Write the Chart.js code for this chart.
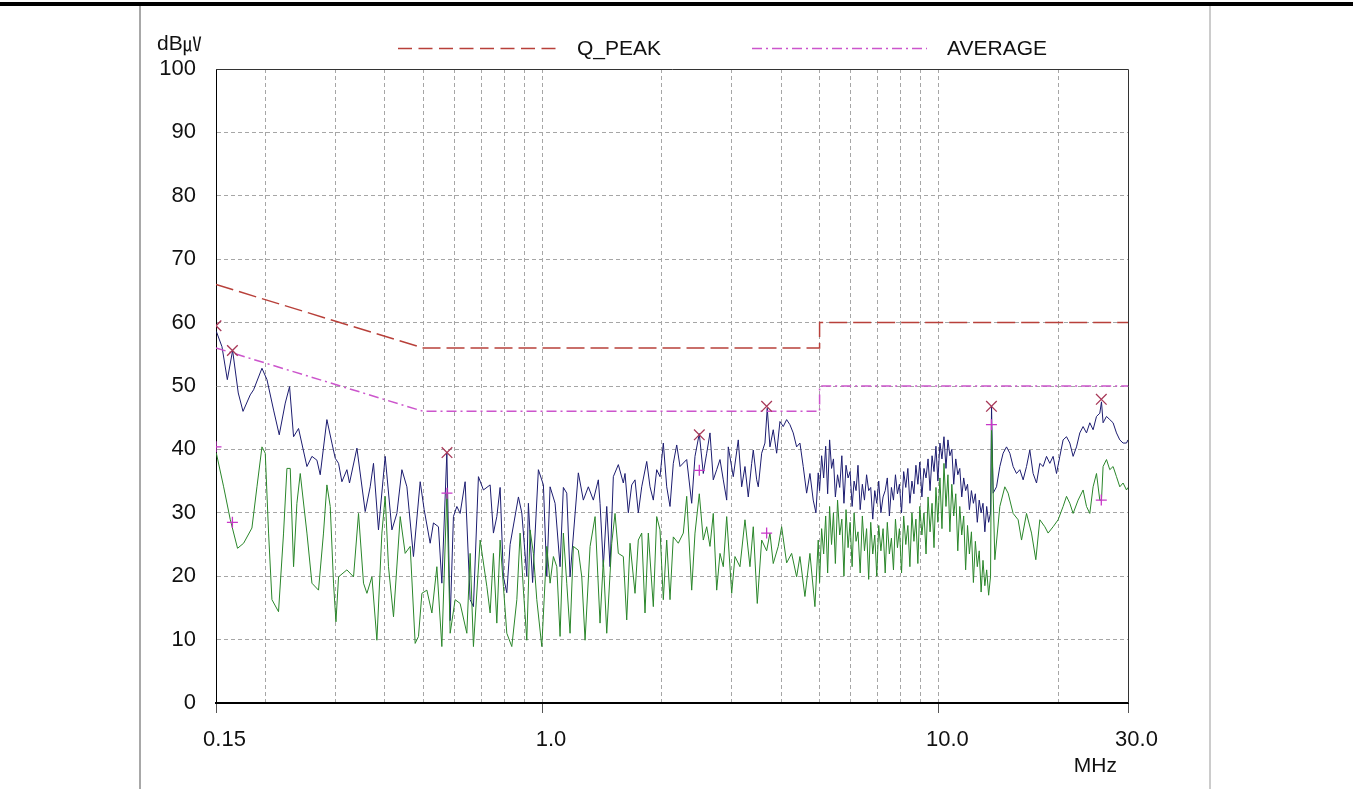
<!DOCTYPE html>
<html><head><meta charset="utf-8">
<script src="https://cdn.jsdelivr.net/npm/chart.js@4.4.1/dist/chart.umd.min.js"></script>
<style>html,body{margin:0;padding:0;background:#fff;overflow:hidden}#wrap{position:relative;width:1353px;height:789px}</style>
</head><body><div id="wrap"><canvas id="c"></canvas></div>
<script>
// ---------- data (frequency in MHz, level in dBuV) ----------
const qpLimit = [[0.15,66],[0.5,56],[5,56],[5,60],[30,60]];
const avLimit = [[0.15,56],[0.5,46],[5,46],[5,50],[30,50]];

const qpMarks = [[0.15,59.5],[0.165,55.6],[0.574,39.5],[2.486,42.3],[3.676,46.8],[13.57,46.8],[25.69,47.9]];
const avMarks = [[0.15,40.4],[0.165,28.5],[0.574,33.1],[2.486,36.7],[3.676,26.8],[13.57,43.9],[25.69,32.0]];

const peakScan = [
[0.1503,58.6],[0.1553,56.2],[0.1602,51.0],[0.1652,55.6],[0.1707,48.9],[0.1755,46.0],[0.1830,48.6],[0.1866,49.4],
[0.1959,52.8],[0.2017,51.0],[0.2096,46.2],[0.2166,42.3],[0.2243,47.3],[0.2300,49.9],[0.2354,42.0],[0.2423,43.3],
[0.2544,37.3],[0.2619,38.9],[0.2696,38.3],[0.2748,36.0],[0.2857,44.7],[0.2941,41.0],[0.2999,38.6],[0.3057,37.8],
[0.3117,34.9],[0.3209,36.8],[0.3258,34.7],[0.3401,40.2],[0.3569,30.2],[0.3674,34.1],[0.3745,37.8],[0.3855,27.3],
[0.4008,38.9],[0.4168,27.3],[0.4290,29.9],[0.4417,36.8],[0.4547,34.1],[0.4724,23.1],[0.4912,34.9],[0.5027,30.5],
[0.5205,25.2],[0.5306,28.4],[0.5462,27.8],[0.5571,18.9],[0.5735,39.5],[0.5846,13.0],[0.5959,29.4],[0.6078,31.0],
[0.6195,29.9],[0.6378,34.9],[0.6566,16.3],[0.6693,15.2],[0.6890,35.7],[0.7093,33.6],[0.7375,34.4],[0.7517,26.8],
[0.7667,29.4],[0.7815,34.0],[0.7966,19.9],[0.8125,17.4],[0.8282,25.0],[0.8692,32.5],[0.8864,30.0],[0.9126,20.0],
[0.9211,31.5],[0.9438,19.0],[0.9761,36.8],[1.0049,34.4],[1.0249,20.0],[1.0447,34.1],[1.0755,31.5],[1.1071,21.5],
[1.1285,34.0],[1.1510,33.1],[1.1733,19.9],[1.2311,36.3],[1.2674,32.0],[1.3047,34.1],[1.3432,32.0],[1.3828,35.2],
[1.3965,31.5],[1.4235,21.5],[1.4520,31.0],[1.4801,21.5],[1.5087,35.7],[1.5531,37.6],[1.5988,34.7],[1.6147,36.2],
[1.6459,30.0],[1.6788,34.4],[1.7113,35.2],[1.7444,30.0],[1.7792,34.1],[1.8316,38.1],[1.8670,34.1],[1.9031,32.0],
[1.9410,36.8],[1.9786,35.7],[2.0170,41.0],[2.0572,34.1],[2.0970,31.0],[2.1375,37.8],[2.1801,40.7],[2.2223,37.3],
[2.3105,38.4],[2.3785,31.5],[2.4245,38.9],[2.4858,42.5],[2.5442,36.2],[2.5950,39.4],[2.6452,42.6],[2.6962,35.2],
[2.7502,36.8],[2.8034,38.4],[2.8577,35.2],[2.9147,32.0],[2.9419,40.4],[3.0284,35.7],[3.1175,41.5],[3.1799,34.1],
[3.2414,37.3],[3.3041,32.5],[3.3700,37.8],[3.4015,39.9],[3.4693,35.2],[3.5017,34.1],[3.5716,39.4],[3.6401,41.0],
[3.6891,46.5],[3.7474,40.4],[3.8199,43.1],[3.8961,39.4],[3.9715,44.4],[4.0483,43.6],[4.1289,44.7],[4.2089,43.9],
[4.2903,42.6],[4.3759,40.4],[4.4606,41.0],[4.5469,37.3],[4.6376,33.1],[4.7273,36.2],[4.8188,32.0],[4.8950,30.0],
[4.9608,36.3],[5.00,33.5],[5.06,39.0],[5.12,35.5],[5.18,40.5],[5.24,33.0],[5.30,41.5],[5.36,37.0],
[5.42,38.5],[5.48,32.5],[5.55,36.0],[5.62,34.0],[5.69,39.0],[5.76,31.5],[5.83,37.5],[5.90,35.5],
[5.97,36.5],[6.04,31.0],[6.11,35.0],[6.18,33.5],[6.25,37.5],[6.33,30.5],[6.41,34.5],[6.49,32.0],
[6.57,36.0],[6.65,33.5],[6.73,34.0],[6.81,29.0],[6.89,33.5],[6.97,31.5],[7.05,35.0],[7.14,30.0],
[7.23,32.5],[7.32,33.5],[7.41,35.5],[7.50,29.5],[7.59,34.0],[7.68,32.0],[7.77,36.0],[7.86,33.0],
[7.95,34.5],[8.05,30.0],[8.15,36.5],[8.25,34.0],[8.35,37.0],[8.45,31.5],[8.55,35.0],[8.65,33.0],
[8.75,37.5],[8.85,34.5],[8.95,38.0],[9.06,32.5],[9.17,37.0],[9.28,35.5],[9.39,38.5],[9.50,33.5],
[9.61,39.0],[9.72,36.5],[9.83,40.5],[9.94,35.0],[10.06,41.0],[10.18,38.5],[10.30,42.0],[10.42,37.0],
[10.54,41.5],[10.66,39.0],[10.78,40.0],[10.90,34.5],[11.03,38.5],[11.16,36.0],[11.29,37.0],[11.42,32.5],
[11.55,35.5],[11.68,33.5],[11.81,34.5],[11.94,30.5],[12.08,33.5],[12.22,31.5],[12.36,33.0],[12.50,28.5],
[12.64,32.0],[12.78,30.0],[12.92,31.5],[13.06,27.0],[13.20,31.0],[13.35,28.5],[13.50,30.0],
[13.577,46.8],[13.704,33.1],[13.977,34.1],[14.248,37.3],[14.523,39.4],[14.813,40.4],[15.100,39.4],[15.392,37.3],
[15.699,36.2],[16.003,36.8],[16.313,35.2],[16.638,37.3],[16.960,39.9],[17.288,36.2],[17.633,34.7],[17.974,37.8],
[18.322,37.3],[18.687,38.9],[19.049,37.8],[19.418,38.9],[19.805,36.2],[20.188,38.9],[20.579,41.5],[20.989,42.0],
[21.395,41.0],[21.809,38.9],[22.244,40.4],[22.674,42.6],[23.113,43.6],[23.574,42.6],[24.030,44.2],[24.495,43.1],
[24.983,45.2],[25.466,45.7],[25.719,47.5],[25.958,44.2],[26.476,45.2],[26.988,44.7],[27.510,44.2],[28.058,42.6],
[28.602,41.5],[29.156,41.0],[29.737,41.0],[30.0,41.5]
];

const avgScan = [
[0.1503,39.4],[0.1568,34.1],[0.1630,28.9],[0.1700,24.4],[0.1761,25.2],[0.1848,27.6],[0.1903,34.1],[0.1959,40.4],
[0.1997,39.4],[0.2036,26.8],[0.2076,16.3],[0.2157,14.4],[0.2221,26.8],[0.2265,37.0],[0.2309,37.0],[0.2354,21.5],
[0.2400,31.5],[0.2447,36.2],[0.2544,26.8],[0.2619,18.9],[0.2721,17.8],[0.2801,26.8],[0.2857,34.4],[0.2913,31.0],
[0.2969,18.9],[0.3011,12.8],[0.3057,19.9],[0.3209,21.0],[0.3335,19.9],[0.3433,29.9],[0.3534,18.9],[0.3605,17.3],
[0.3711,19.9],[0.3820,9.9],[0.3932,26.8],[0.4008,32.6],[0.4086,21.5],[0.4207,13.6],[0.4374,29.4],[0.4502,23.6],
[0.4635,24.7],[0.4771,9.4],[0.4864,10.5],[0.4961,17.3],[0.5107,17.8],[0.5258,14.2],[0.5412,21.5],[0.5571,8.9],
[0.5735,33.1],[0.5846,11.0],[0.6018,16.3],[0.6195,15.7],[0.6441,11.0],[0.6566,23.6],[0.6693,8.9],[0.6959,25.7],
[0.7235,18.4],[0.7375,14.2],[0.7517,23.6],[0.7667,12.6],[0.7815,25.7],[0.7966,18.4],[0.8125,11.0],[0.8364,8.9],
[0.8612,16.3],[0.8777,26.8],[0.8948,17.8],[0.9126,9.9],[0.9302,27.3],[0.9482,23.6],[0.9671,16.3],[0.9956,8.9],
[1.0249,24.7],[1.0447,18.9],[1.0650,23.1],[1.0862,21.5],[1.1071,10.5],[1.1285,26.8],[1.1510,18.9],[1.1733,11.0],
[1.1960,24.7],[1.2311,24.1],[1.2559,19.9],[1.2802,9.9],[1.3181,24.7],[1.3569,29.4],[1.3965,12.6],[1.4235,22.6],
[1.4520,11.0],[1.4948,25.2],[1.5236,29.9],[1.5531,23.6],[1.5988,23.1],[1.6307,13.1],[1.6622,25.2],[1.7113,17.3],
[1.7444,25.7],[1.7792,26.8],[1.8134,14.2],[1.8487,26.8],[1.9031,15.2],[1.9410,29.4],[1.9786,27.3],[2.0170,16.3],
[2.0572,25.7],[2.0970,16.3],[2.1375,26.2],[2.2004,25.2],[2.2654,26.8],[2.3105,32.6],[2.3785,17.8],[2.4245,26.8],
[2.4858,33.0],[2.5442,25.7],[2.5950,27.8],[2.6452,24.7],[2.6962,29.9],[2.7502,17.8],[2.8034,23.6],[2.8577,21.5],
[2.9147,29.4],[3.0004,17.3],[3.0585,23.1],[3.1484,21.5],[3.2414,28.9],[3.3366,21.5],[3.4015,27.8],[3.4814,15.7],
[3.5716,25.7],[3.6763,24.0],[3.7474,26.8],[3.8199,22.0],[3.9325,24.7],[4.0107,27.8],[4.1289,22.1],[4.2506,23.6],
[4.3759,19.9],[4.4606,23.1],[4.5920,16.8],[4.7273,23.6],[4.8667,15.2],[4.9608,25.7],
[5.00,19.0],[5.06,27.5],[5.12,23.5],[5.18,29.5],[5.24,20.5],[5.30,31.0],[5.36,25.0],[5.42,30.0],
[5.48,22.0],[5.55,32.0],[5.62,26.5],[5.69,29.0],[5.76,20.0],[5.83,30.5],[5.90,24.5],[5.97,28.5],
[6.04,21.5],[6.11,30.0],[6.18,25.5],[6.25,27.0],[6.33,20.5],[6.41,29.5],[6.49,24.0],[6.57,27.5],
[6.65,19.5],[6.73,28.5],[6.81,23.5],[6.89,26.5],[6.97,20.0],[7.05,28.0],[7.14,24.0],[7.23,27.5],
[7.32,20.5],[7.41,28.5],[7.50,23.5],[7.59,26.0],[7.68,21.0],[7.77,29.0],[7.86,24.5],[7.95,27.5],
[8.05,20.5],[8.15,29.5],[8.25,25.0],[8.35,28.0],[8.45,21.5],[8.55,30.0],[8.65,25.5],[8.75,29.0],
[8.85,22.0],[8.95,31.0],[9.06,26.5],[9.17,30.0],[9.28,23.5],[9.39,32.5],[9.50,27.0],[9.61,31.5],
[9.72,24.5],[9.83,34.0],[9.94,28.5],[10.06,35.5],[10.18,27.5],[10.30,37.8],[10.42,31.0],[10.54,36.0],
[10.66,27.0],[10.78,34.5],[10.90,29.5],[11.03,33.0],[11.16,24.0],[11.29,31.0],[11.42,26.5],[11.55,29.5],
[11.68,21.0],[11.81,28.0],[11.94,23.5],[12.08,27.0],[12.22,19.0],[12.36,25.5],[12.50,21.5],[12.64,24.0],
[12.78,17.5],[12.92,22.5],[13.06,18.5],[13.20,21.0],[13.35,17.0],[13.50,20.0],
[13.577,43.5],[13.840,22.6],[14.248,31.0],[14.667,34.1],[14.951,33.1],
[15.392,29.9],[15.846,28.9],[16.162,25.7],[16.638,29.9],[17.128,26.8],[17.561,22.6],[17.974,28.9],[18.503,27.8],
[18.862,26.8],[19.418,27.8],[19.990,28.9],[20.579,31.0],[20.989,32.6],[21.395,31.5],[21.809,29.9],[22.451,32.0],
[23.113,33.6],[23.574,31.0],[24.030,29.9],[24.495,34.1],[24.983,36.2],[25.466,32.0],[25.719,32.0],[25.958,37.3],
[26.476,38.4],[26.988,36.8],[27.510,37.3],[28.058,35.7],[28.602,34.1],[29.156,34.7],[29.737,33.6],[30.0,34.0]
];

const xTickValues = [0.15,0.2,0.3,0.4,0.5,0.6,0.7,0.8,0.9,1,2,3,4,5,6,7,8,9,10,20,30];
const xTickLabels = {0.15:'0.15', 1:'1.0', 10:'10.0', 30:'30.0'};
const yUnit = ['dB', '㎶'];
const xUnit = 'MHz';

// ---------- chart ----------
const FONT = '"Liberation Sans", Arial, Helvetica, sans-serif';
Chart.defaults.font.family = FONT;
const toXY = a => a.map(p => ({x: p[0], y: p[1]}));
const CLEAR = 'rgba(0,0,0,0)';

const decor = {
  id: 'decor',
  afterDraw(chart) {
    const ctx = chart.ctx, a = chart.chartArea;
    ctx.save();
    ctx.setLineDash([]);
    // plot frame (top / right)
    ctx.strokeStyle = '#333'; ctx.lineWidth = 1;
    ctx.beginPath();
    ctx.moveTo(a.left, a.top + 0.5); ctx.lineTo(a.right + 0.5, a.top + 0.5); ctx.lineTo(a.right + 0.5, a.bottom);
    ctx.stroke();
    // page frame
    ctx.fillStyle = '#000'; ctx.fillRect(0, 2, chart.width, 4);
    ctx.fillStyle = '#a8a8a8'; ctx.fillRect(139, 6, 2, chart.height - 6);
    ctx.fillStyle = '#cccccc'; ctx.fillRect(1209, 6, 2, chart.height - 6);
    // legend
    const ds = chart.data.datasets;
    const items = [{d: ds[1], x0: 398, x1: 562, tx: 577}, {d: ds[2], x0: 752, x1: 927, tx: 947}];
    ctx.textBaseline = 'middle'; ctx.textAlign = 'left';
    ctx.font = '21px ' + FONT;
    items.forEach(it => {
      ctx.save();
      ctx.strokeStyle = it.d.borderColor; ctx.lineWidth = 1.5;
      ctx.setLineDash(it.d.legendDash);
      ctx.beginPath(); ctx.moveTo(it.x0, 48.5); ctx.lineTo(it.x1, 48.5); ctx.stroke();
      ctx.restore();
      ctx.fillStyle = '#111';
      ctx.fillText(it.d.label, it.tx, 49);
    });
    // units
    ctx.fillStyle = '#111';
    ctx.font = '21px ' + FONT;
    ctx.fillText(yUnit[0], 157, 44);
    const w = ctx.measureText(yUnit[0]).width;
    ctx.font = '19px "Noto Sans CJK KR", "Noto Sans CJK SC", sans-serif';
    ctx.fillText(yUnit[1], 157 + w, 44);
    ctx.textAlign = 'right';
    ctx.font = '21px ' + FONT;
    ctx.fillText(xUnit, 1117, 766);
    ctx.restore();
  }
};

new Chart(document.getElementById('c'), {
  type: 'line',
  data: {
    datasets: [
      {label: 'QP result', data: toXY(qpMarks), showLine: false, pointStyle: 'crossRot', pointRadius: 7.5,
       borderColor: '#a83858', pointBorderColor: '#a83858', pointBorderWidth: 1.3, backgroundColor: CLEAR, clip: 0, order: 0},
      {label: 'Q_PEAK', data: toXY(qpLimit), borderColor: '#b8403a', borderWidth: 1.5, borderDash: [18, 6],
       legendDash: [14, 6.5], pointRadius: 0, fill: false, order: 1},
      {label: 'AVERAGE', data: toXY(avLimit), borderColor: '#cc55cc', borderWidth: 1.5, borderDash: [10, 4, 2, 4],
       legendDash: [10, 4, 2, 4], pointRadius: 0, fill: false, order: 1},
      {label: 'AV result', data: toXY(avMarks), showLine: false, pointStyle: 'cross', pointRadius: 5.5,
       borderColor: '#c838c8', pointBorderColor: '#c838c8', pointBorderWidth: 1.3, backgroundColor: CLEAR, clip: 0, order: 0},
      {label: 'Average scan', data: toXY(avgScan), borderColor: '#2a862a', borderWidth: 1, pointRadius: 0, fill: false, order: 2},
      {label: 'Peak scan', data: toXY(peakScan), borderColor: '#1c1c70', borderWidth: 1, pointRadius: 0, fill: false, order: 3}
    ]
  },
  options: {
    responsive: true, maintainAspectRatio: false, animation: false, events: [],
    layout: {padding: {left: 156, right: 225, top: 69, bottom: 0}},
    elements: {line: {tension: 0}},
    plugins: {legend: {display: false}, tooltip: {enabled: false}, title: {display: false}},
    scales: {
      x: {
        type: 'logarithmic', min: 0.15, max: 30,
        afterBuildTicks: s => { s.ticks = xTickValues.map(v => ({value: v})); },
        afterFit: s => { s.height = 86; },
        ticks: {
          autoSkip: false, maxRotation: 0, minRotation: 0, labelOffset: 8.5, padding: 14,
          font: {size: 22}, color: '#111',
          callback: v => xTickLabels[v] !== undefined ? xTickLabels[v] : ''
        },
        grid: {
          color: c => (c.tick && (c.tick.value === 0.15 || c.tick.value === 30)) ? CLEAR : '#a6a6a6',
          lineWidth: 1, drawTicks: true, tickLength: 10, tickWidth: 1,
          tickColor: c => (c.tick && xTickLabels[c.tick.value] !== undefined) ? '#555' : CLEAR
        },
        border: {display: true, color: '#000', width: 2, dash: [4, 3]}
      },
      y: {
        min: 0, max: 100,
        afterFit: s => { s.width = 60; },
        ticks: {stepSize: 10, padding: 20, font: {size: 22}, color: '#111'},
        grid: {
          color: c => (c.tick && (c.tick.value === 0 || c.tick.value === 100)) ? CLEAR : '#a6a6a6',
          lineWidth: 1, drawTicks: false
        },
        border: {display: true, color: '#000', width: 1, dash: [4, 3]}
      }
    }
  },
  plugins: [decor]
});
</script>
</body></html>
